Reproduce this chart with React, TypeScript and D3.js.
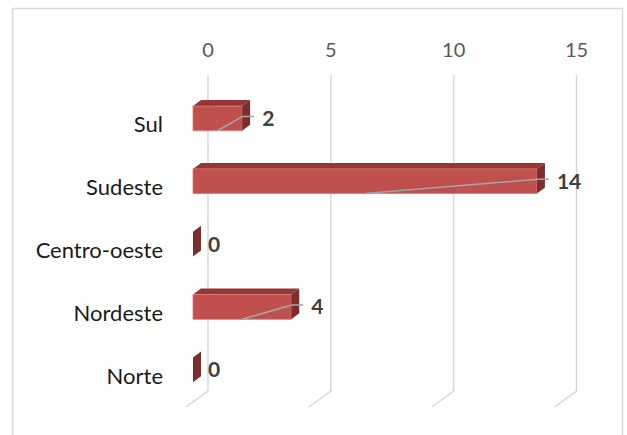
import React from "react";
import * as d3 from "d3";

const categories = ["Sul", "Sudeste", "Centro-oeste", "Nordeste", "Norte"];
const values = [2, 14, 0, 4, 0];
const ticks = [0, 5, 10, 15];

const W = 627;
const H = 435;
const FONT = "Lato, 'Open Sans', sans-serif";

export default function App() {
  const xBack = d3.scaleLinear().domain([0, 15]).range([208, 576.5]);
  const frontDX = -15;
  const xFront = (v: number) => xBack(v) + frontDX;
  const yC = d3.scalePoint<string>().domain(categories).range([118.4, 369.8]);
  const barH = 24.7;
  const depth = { dx: 8, dy: -6 };
  const gridTop = 75;
  const gridBottom = 391;
  const floor = { dx: -22, dy: 16 };

  return (
    <svg
      width={W}
      height={H}
      style={{ position: "absolute", left: 0, top: 0, background: "#fff" }}
    >
      <rect x={12.5} y={8.5} width={610} height={H} fill="#fff" stroke="#d9d9d9" strokeWidth={1.5} />
      {ticks.map((t) => (
        <g key={t}>
          <polyline
            points={`${xBack(t)},${gridTop} ${xBack(t)},${gridBottom} ${xBack(t) + floor.dx},${gridBottom + floor.dy}`}
            fill="none"
            stroke="#d9d9d9"
            strokeWidth={1.5}
          />
          <text
            x={xBack(t)}
            y={49}
            textAnchor="middle"
            dominantBaseline="central"
            fontFamily={FONT}
            fontSize={20}
            fill="#595959"
          >
            {t}
          </text>
        </g>
      ))}
      {categories.map((c, i) => {
        const v = values[i];
        const cy = yC(c)!;
        const top = cy - barH / 2;
        const bot = cy + barH / 2;
        const x0 = xFront(0);
        const x1 = xFront(v);
        const d = depth;
        const labelY = cy - 1;
        const labelX = x1 + (v > 0 ? 20 : 15);
        return (
          <g key={c}>
            <text
              x={163}
              y={cy + 13.8}
              textAnchor="end"
              fontFamily={FONT}
              fontSize={22}
              fill="#1a1a1a"
            >
              {c}
            </text>
            {v > 0 && (
              <>
                <polygon
                  points={`${x0},${top} ${x0 + d.dx},${top + d.dy} ${x1 + d.dx},${top + d.dy} ${x1},${top}`}
                  fill="#943735"
                />
                <rect x={x0} y={top} width={x1 - x0} height={barH} fill="#C0504D" stroke="#d7817f" strokeWidth={0.8} />
              </>
            )}
            <polygon
              points={`${x1},${top} ${x1 + d.dx},${top + d.dy} ${x1 + d.dx},${bot + d.dy} ${x1},${bot}`}
              fill="#7d2e2c"
            />
            {v > 0 && (
              <polyline
                points={`${(x0 + x1) / 2},${bot} ${x1 + 0.5},${labelY - 1} ${labelX - 8},${labelY - 1}`}
                fill="none"
                stroke="#a6a6a6"
                strokeWidth={1.5}
              />
            )}
            <text
              x={labelX}
              y={labelY}
              dominantBaseline="central"
              fontFamily={FONT}
              fontWeight="bold"
              fontSize={21}
              fill="#404040"
            >
              {v}
            </text>
          </g>
        );
      })}
    </svg>
  );
}
